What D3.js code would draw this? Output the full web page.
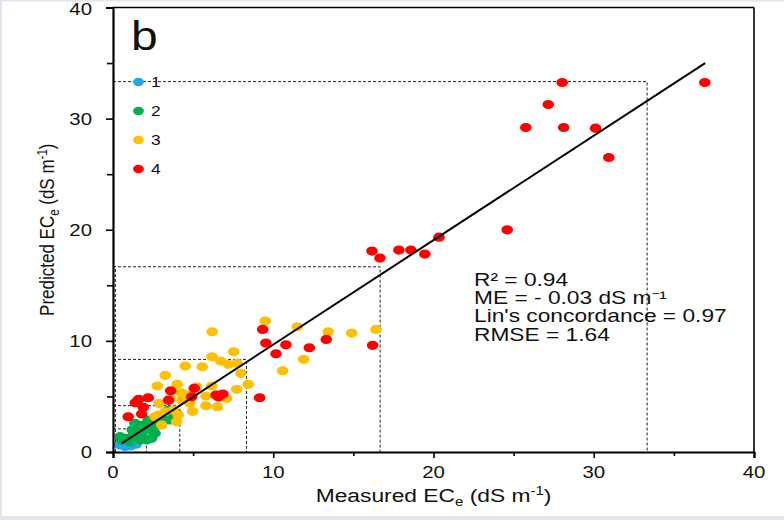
<!DOCTYPE html>
<html><head><meta charset="utf-8">
<script src="https://cdn.jsdelivr.net/npm/d3@7"></script>
<style>
html,body{margin:0;padding:0;background:#e6e3f0;}
svg{display:block;}
text{font-family:"Liberation Sans",Arial,sans-serif;fill:#111;}
</style></head>
<body>
<script>
// ---- data ----
const groups = ["1","2","3","4"];
const groupColors = ["#1ea8ea","#00b050","#ffc000","#ff0000"];
const xTicks = [0,10,20,30,40];
const yTicks = [0,10,20,30,40];
const minorTicks = [5,15,25,35];
const thresholds = [33.33,16.67,8.33,4.17,2.08];
const fitX = [0.55,36.95];
const fitY = [0.78,35.0];
const stats = ["R² = 0.94","ME = - 0.03 dS m⁻¹","Lin's concordance = 0.97","RMSE = 1.64"];

const blueX = [0.40,0.75,1.10,1.45,0.60];
const blueY = [0.65,0.50,0.55,0.70,0.90];

const greenX = [0.54,0.85,1.27,1.58,1.37,1.89,2.20,2.31,2.41,2.62,2.83,3.24,3.76,3.45,3.66,2.10,1.68,1.06,0.44,1.20,2.50,3.00,3.95,3.53,1.80];
const greenY = [1.08,1.23,1.53,2.13,2.58,2.43,2.88,1.98,1.23,1.68,2.43,2.88,3.33,3.78,3.03,1.08,1.08,0.93,1.38,2.00,2.60,3.20,3.48,2.88,1.70];

const yellowX = [9.50,6.19,11.50,13.43,14.89,16.41,7.53,6.18,6.72,7.19,7.74,4.51,5.57,7.98,11.90,10.59,3.26,2.76,4.01,6.16,7.72,8.44,5.22,4.26,4.64,5.80,7.09,5.80,6.51,4.97,2.89,2.62,3.56,3.24,2.83,3.76,3.97,3.04,4.80,4.29,4.07];
const yellowY = [11.78,10.82,11.27,10.82,10.70,11.03,9.02,8.57,8.18,7.89,7.98,7.73,7.67,7.08,8.34,7.31,6.90,5.94,6.09,5.94,5.64,6.09,5.87,5.33,5.10,5.04,4.83,4.16,4.07,3.66,4.38,3.17,4.83,3.62,3.33,3.78,2.72,2.43,4.38,4.68,3.33];

const redX = [28.03,27.16,25.76,28.12,30.11,30.94,24.60,36.93,16.16,16.66,17.84,18.59,19.46,20.34,9.34,9.54,10.79,12.25,13.31,10.17,16.20,3.60,5.07,4.91,3.47,6.43,6.86,6.59,9.15,2.20,1.60,1.39,1.89,1.79,0.95];
const redY = [33.25,31.27,29.20,29.20,29.14,26.50,19.99,33.25,18.08,17.45,18.17,18.17,17.81,19.33,11.03,9.80,9.65,9.38,10.13,8.84,9.60,5.51,5.73,4.97,4.65,5.13,5.22,4.95,4.88,4.88,4.74,4.43,4.02,3.42,3.17];

// ---- chart ----
const W=784,H=520, SX=1.2;
const svg = d3.select("body").append("svg").attr("width",W).attr("height",H);
svg.append("rect").attr("x",2).attr("y",1.5).attr("width",W-2).attr("height",H-5.5).attr("fill","#fff");

const x = d3.scaleLinear().domain([0,40]).range([113,754]);
const y = d3.scaleLinear().domain([0,40]).range([452,7.5]);

// dashed class boundaries
const dash = svg.append("g").attr("stroke","#222").attr("stroke-width",1).attr("stroke-dasharray","3,2").attr("fill","none");
thresholds.forEach(t=>{
  dash.append("path").attr("d",`M${x(0)},${y(t)}H${x(t)}V${y(0)}`);
});
dash.append("line").attr("x1",x(0.15)).attr("x2",x(0.15)).attr("y1",y(0)).attr("y2",y(16.67));

// points
const sets = [[blueX,blueY],[greenX,greenY],[yellowX,yellowY],[redX,redY]];
sets.forEach((s,gi)=>{
  const pts = s[0].map((v,i)=>({x:v,y:s[1][i]}));
  svg.append("g").selectAll("ellipse").data(pts).join("ellipse")
    .attr("cx",d=>x(d.x)).attr("cy",d=>y(d.y)).attr("rx",5.8).attr("ry",4.6)
    .attr("fill",groupColors[gi]);
});

// fit line
svg.append("line").attr("x1",x(fitX[0])).attr("y1",y(fitY[0])).attr("x2",x(fitX[1])).attr("y2",y(fitY[1]))
  .attr("stroke","#000").attr("stroke-width",2);

// frame
svg.append("line").attr("x1",x(0)).attr("x2",x(40)).attr("y1",y(40)).attr("y2",y(40)).attr("stroke","#000").attr("stroke-width",1.3);
svg.append("line").attr("x1",x(40)).attr("x2",x(40)).attr("y1",y(0)).attr("y2",y(40)).attr("stroke","#000").attr("stroke-width",1.6);

// axes
const gx = svg.append("g").attr("transform",`translate(0,${y(0)})`)
  .call(d3.axisBottom(x).tickValues(xTicks).tickSize(6).tickFormat(""));
const gxm = svg.append("g").attr("transform",`translate(0,${y(0)})`)
  .call(d3.axisBottom(x).tickValues(minorTicks).tickSize(4).tickFormat(""));
const gy = svg.append("g").attr("transform",`translate(${x(0)},0)`)
  .call(d3.axisLeft(y).tickValues(yTicks).tickSize(7).tickFormat(""));
const gym = svg.append("g").attr("transform",`translate(${x(0)},0)`)
  .call(d3.axisLeft(y).tickValues(minorTicks).tickSize(6).tickFormat(""));
[gx,gxm,gy,gym].forEach(g=>{
  g.selectAll("path").attr("stroke","#000").attr("stroke-width",2.2);
  g.selectAll("line").attr("stroke","#000").attr("stroke-width",1.6);
});
gxm.select("path").remove(); gym.select("path").remove();

// tick labels
svg.append("g").selectAll("text").data(xTicks).join("text")
  .attr("transform",d=>`translate(${x(d)},478) scale(${SX},1)`)
  .attr("text-anchor","middle").attr("font-size",17).text(d=>d);
svg.append("g").selectAll("text").data(yTicks).join("text")
  .attr("transform",d=>`translate(92,${Math.max(y(d)+6,15)}) scale(${SX},1)`)
  .attr("text-anchor","end").attr("font-size",17).text(d=>d);

// axis titles
const xt = svg.append("text").attr("transform",`translate(${(x(0)+x(40))/2},502) scale(${SX},1)`)
  .attr("text-anchor","middle").attr("font-size",19);
xt.append("tspan").text("Measured EC");
xt.append("tspan").attr("font-size",12.5).attr("dy",4).text("e");
xt.append("tspan").attr("dy",-4).text(" (dS m");
xt.append("tspan").attr("font-size",12.5).attr("dy",-7).text("-1");
xt.append("tspan").attr("dy",7).text(")");

const yt = svg.append("text").attr("transform",`translate(54,${(y(0)+y(40))/2}) rotate(-90) scale(1,${SX})`)
  .attr("text-anchor","middle").attr("font-size",17);
yt.append("tspan").text("Predicted EC");
yt.append("tspan").attr("font-size",11.5).attr("dy",4).text("e");
yt.append("tspan").attr("dy",-4).text(" (dS m");
yt.append("tspan").attr("font-size",11.5).attr("dy",-6).text("-1");
yt.append("tspan").attr("dy",6).text(")");

// panel letter
svg.append("text").attr("transform",`translate(131,50) scale(${SX},1)`).attr("font-size",40).text("b");

// legend
const lg = svg.append("g");
groups.forEach((g,i)=>{
  const cy = 82 + i*29;
  lg.append("ellipse").attr("cx",138.5).attr("cy",cy).attr("rx",5.4).attr("ry",4.2).attr("fill",groupColors[i]);
  lg.append("text").attr("transform",`translate(151,${cy+5}) scale(${SX},1)`).attr("font-size",14.5).text(g);
});

// stats
stats.forEach((s,i)=>{
  svg.append("text").attr("transform",`translate(474,${285.5+i*18.4}) scale(1.3,1)`).attr("font-size",17.5).text(s);
});
</script>
</body></html>
